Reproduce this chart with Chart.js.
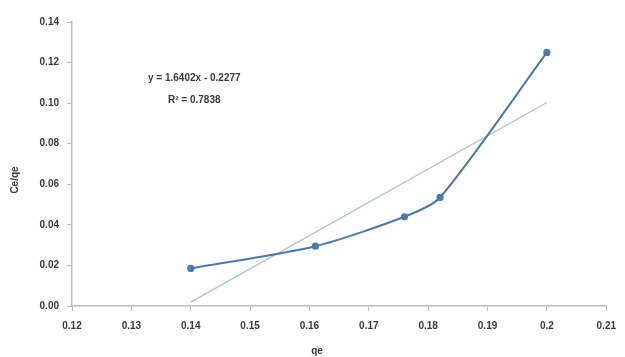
<!DOCTYPE html>
<html>
<head>
<meta charset="utf-8">
<script src="https://cdn.jsdelivr.net/npm/chart.js@4"></script>
<style>
  html, body { margin: 0; padding: 0; background: #fff; }
  #wrap { width: 625px; height: 357px; }
</style>
</head>
<body>
<div id="wrap"><canvas id="chart"></canvas></div>
<script>
// datos
const qe = [0.14, 0.161, 0.176, 0.182, 0.2];
const ceQe = [0.0185, 0.0295, 0.044, 0.0535, 0.125];

// linea de tendencia (extremos leidos)
const trendX = [0.14, 0.2];
const trendY = [0.0019, 0.1003];

const xTicks = ['0.12', '0.13', '0.14', '0.15', '0.16', '0.17', '0.18', '0.19', '0.2', '0.21'];
const yTicks = ['0.00', '0.02', '0.04', '0.06', '0.08', '0.10', '0.12', '0.14'];

const ecuacion = 'y = 1.6402x - 0.2277';
const r2 = 'R\u00b2 = 0.7838';
const xTitle = 'qe';
const yTitle = 'Ce/qe';

const fuente = { family: 'Liberation Sans, Arial, sans-serif', size: 10, weight: 'bold' };
const colorTexto = '#3a3a3a';
const colorEje = '#bdbdbd';

// textos extra (ecuacion y titulos)
const textos = {
    id: 'textos',
    afterDraw(chart) {
        const ctx = chart.ctx;
        ctx.save();
        ctx.fillStyle = colorTexto;
        ctx.font = 'bold 10px Liberation Sans, Arial, sans-serif';
        ctx.textBaseline = 'middle';
        ctx.textAlign = 'left';
        ctx.fillText(ecuacion, 148, 78);
        ctx.fillText(r2, 168, 100);

        ctx.textAlign = 'center';
        ctx.fillText(xTitle, 317, 351);

        ctx.translate(15, 180);
        ctx.rotate(-Math.PI / 2);
        ctx.fillText(yTitle, 0, 0);
        ctx.restore();
    }
};

new Chart(document.getElementById('chart'), {
    type: 'scatter',
    data: {
        datasets: [
            {
                data: qe.map((x, i) => ({ x: x, y: ceQe[i] })),
                showLine: true,
                borderColor: '#4a78b0',
                backgroundColor: '#4a78b0',
                borderWidth: 2,
                tension: 0.25,
                pointRadius: 2.6,
                pointHoverRadius: 2.6
            },
            {
                data: trendX.map((x, i) => ({ x: x, y: trendY[i] })),
                showLine: true,
                borderColor: '#a9c2dc',
                borderWidth: 1.2,
                pointRadius: 0
            }
        ]
    },
    options: {
        responsive: true,
        maintainAspectRatio: false,
        animation: false,
        layout: { padding: { top: 22, right: 15, left: 0, bottom: 0 } },
        plugins: {
            legend: { display: false },
            tooltip: { enabled: false }
        },
        scales: {
            x: {
                type: 'linear',
                min: 0.12,
                max: 0.21,
                afterBuildTicks: scale => {
                    scale.ticks = xTicks.map(t => ({ value: Number(t) }));
                },
                afterFit: scale => { scale.height = 51; },
                ticks: {
                    color: colorTexto,
                    font: fuente,
                    padding: 9,
                    maxRotation: 0,
                    autoSkip: false,
                    callback: (v, i) => xTicks[i]
                },
                grid: {
                    drawOnChartArea: false,
                    color: colorEje,
                    tickLength: 5
                },
                border: { color: colorEje, width: 1.5 }
            },
            y: {
                min: 0,
                max: 0.14,
                afterBuildTicks: scale => {
                    scale.ticks = yTicks.map(t => ({ value: Number(t) }));
                },
                afterFit: scale => { scale.width = 72; },
                ticks: {
                    color: colorTexto,
                    font: fuente,
                    padding: 8,
                    autoSkip: false,
                    callback: (v, i) => yTicks[i]
                },
                grid: {
                    drawOnChartArea: false,
                    color: colorEje,
                    tickLength: 5
                },
                border: { color: colorEje, width: 1.5 }
            }
        }
    },
    plugins: [textos]
});
</script>
</body>
</html>
